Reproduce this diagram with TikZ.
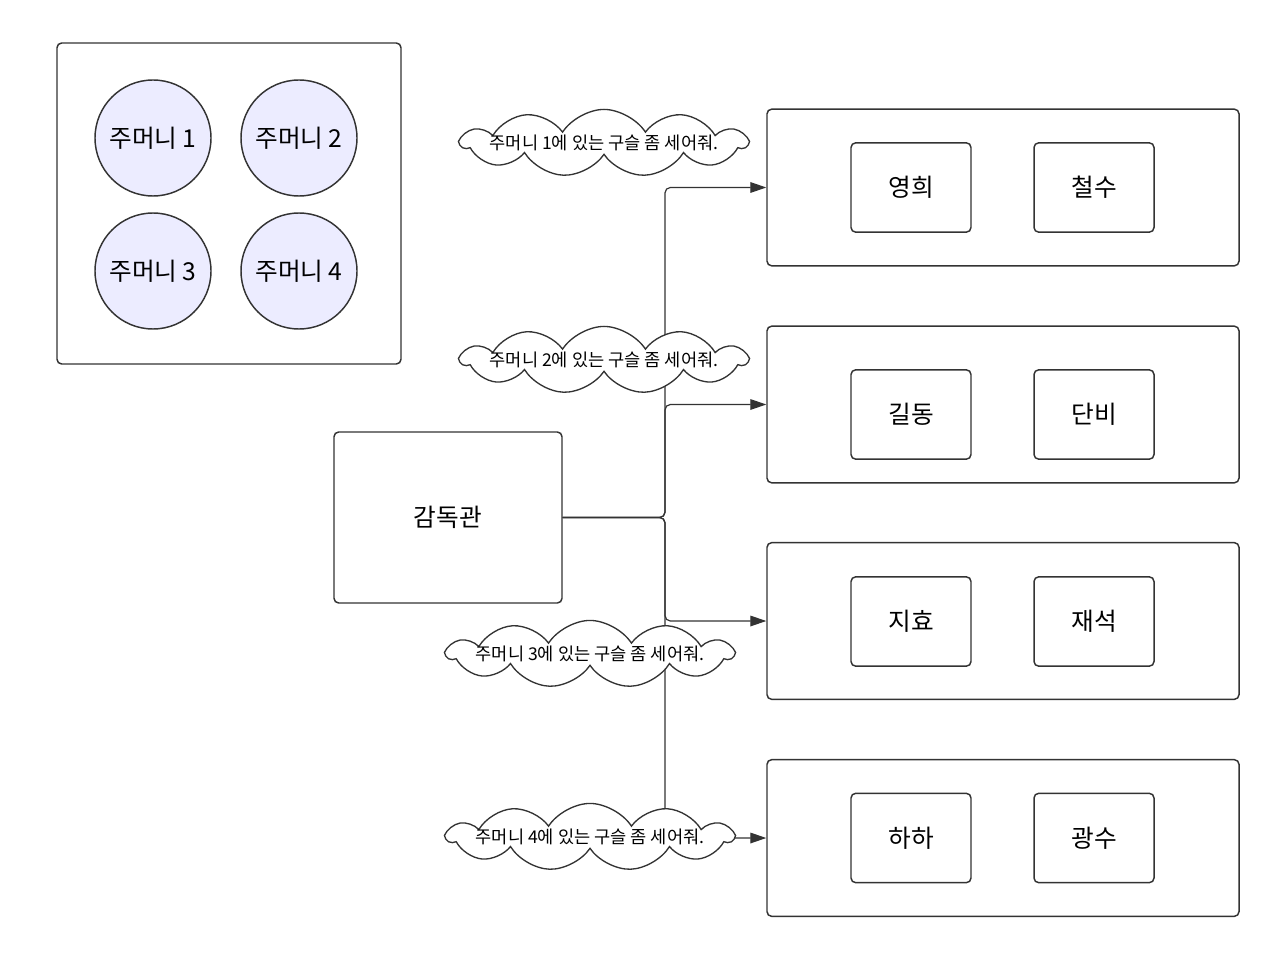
\documentclass[tikz,border=0pt]{standalone}
\usepackage{fontspec}
\setmainfont{Noto Sans CJK KR}
\usetikzlibrary{shapes.symbols,arrows.meta}
\definecolor{ink}{HTML}{333333}
\definecolor{pocketfill}{HTML}{ECECFF}
\newcommand\ordertext[1]{\parbox[c][12pt][c]{156pt}{\centering\makebox[0pt]{#1}}}
\tikzset{
  pocket/.style={circle,draw=ink,line width=1.1pt,fill=pocketfill,minimum size=87pt,inner sep=0pt,font=\fontsize{18.5}{22}\selectfont},
  member/.style={rectangle,rounded corners=3.5pt,draw=ink,line width=1.1pt,minimum width=90pt,minimum height=67pt,font=\fontsize{18.5}{22}\selectfont},
  team/.style={rectangle,rounded corners=3.5pt,draw=ink,line width=1.1pt,minimum width=354pt,minimum height=117.5pt},
  order/.style={cloud,draw=ink,fill=white,line width=1pt,cloud puffs=11,cloud puff arc=115,cloud ignores aspect,inner sep=0pt,font=\fontsize{13.2}{15}\selectfont},
  flow/.style={draw=ink,line width=0.9pt,rounded corners=4pt,-{Triangle[length=12pt,width=8pt]}}
}
\begin{document}
\begin{tikzpicture}[x=0.75pt,y=-0.75pt]
  \useasboundingbox (0,0) rectangle (1280,952);
  %% pockets
  \node[team,minimum width=258pt,minimum height=240.75pt] (bag) at (229,203.5) {};
  \node[pocket] (p1) at (153,138) {주머니 1};
  \node[pocket] (p2) at (299,138) {주머니 2};
  \node[pocket] (p3) at (153,271) {주머니 3};
  \node[pocket] (p4) at (299,271) {주머니 4};
  %% supervisor
  \node[member,minimum width=171pt,minimum height=128.25pt] (boss) at (448,517.5) {감독관};
  %% teams
  \node[team] (team1) at (1003,187.5) {};
  \node[member] (m11) at (911,187.5) {영희};
  \node[member] (m12) at (1094,187.5) {철수};
  \node[team] (team2) at (1003,404.5) {};
  \node[member] (m21) at (911,414.5) {길동};
  \node[member] (m22) at (1094,414.5) {단비};
  \node[team] (team3) at (1003,621) {};
  \node[member] (m31) at (911,621.5) {지효};
  \node[member] (m32) at (1094,621.5) {재석};
  \node[team] (team4) at (1003,838) {};
  \node[member] (m41) at (911,838) {하하};
  \node[member] (m42) at (1094,838) {광수};
  %% orders
  \coordinate (bus) at (665,517.5);
  \foreach \i in {1,...,4}
    \draw[flow] (boss.east) -- (bus) |- (team\i.west);
  \node[order] (o1) at (604,143) {\ordertext{주머니 1에 있는 구슬 좀 세어줘.}};
  \node[order] (o2) at (604,360) {\ordertext{주머니 2에 있는 구슬 좀 세어줘.}};
  \node[order] (o3) at (590,654) {\ordertext{주머니 3에 있는 구슬 좀 세어줘.}};
  \node[order] (o4) at (590,837) {\ordertext{주머니 4에 있는 구슬 좀 세어줘.}};
\end{tikzpicture}
\end{document}
